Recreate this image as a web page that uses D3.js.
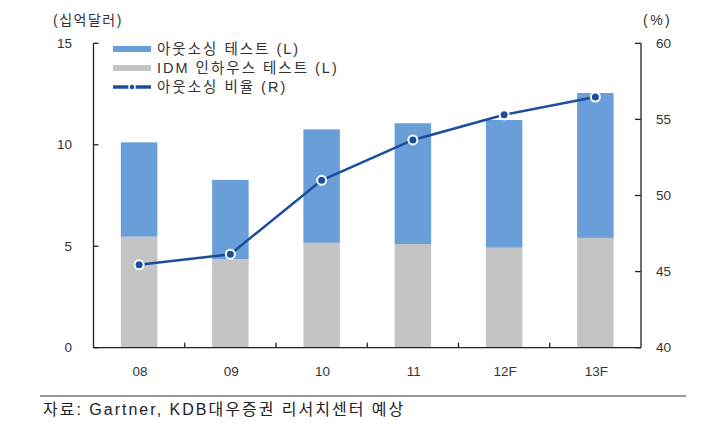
<!DOCTYPE html>
<html><head><meta charset="utf-8">
<script src="https://cdn.jsdelivr.net/npm/d3@7"></script>
<style>
body{margin:0;background:#fff;}
text{font-family:"Liberation Sans","Noto Sans CJK KR",sans-serif;fill:#333;}
</style></head>
<body><svg id="c" width="725" height="425"></svg>
<script>
const categories = ["08","09","10","11","12F","13F"];
const inhouse = [5.47, 4.37, 5.17, 5.11, 4.93, 5.41];
const outsourced = [4.65, 3.90, 5.59, 5.95, 6.29, 7.14];
const ratio = [45.45, 46.14, 51.0, 53.65, 55.3, 56.47];
const leftTicks = [0,5,10,15];
const rightTicks = [40,45,50,55,60];
const legendLabels = ["아웃소싱 테스트 (L)","IDM 인하우스 테스트 (L)","아웃소싱 비율 (R)"];

const svg = d3.select("#c");
const L = 93.5, R = 641, T = 43.3, B = 347.7;
const blue = "#6a9ed8", gray = "#c4c4c4", line = "#1b4f9c";

const x = d3.scaleBand().domain(categories).range([L,R]).paddingInner(0.6).paddingOuter(0.3);
const y = d3.scaleLinear().domain([0,15]).range([B,T]);
const y2 = d3.scaleLinear().domain([40,60]).range([B,T]);

// bars
const g = svg.append("g");
categories.forEach((c,i)=>{
  g.append("rect").attr("x",x(c)).attr("width",x.bandwidth())
   .attr("y",y(inhouse[i])).attr("height",y(0)-y(inhouse[i])).attr("fill",gray);
  g.append("rect").attr("x",x(c)).attr("width",x.bandwidth())
   .attr("y",y(inhouse[i]+outsourced[i])).attr("height",y(inhouse[i])-y(inhouse[i]+outsourced[i])).attr("fill",blue);
});

// axes
const ax = svg.append("g").attr("stroke","#222").attr("stroke-width",1.3).attr("fill","none");
ax.append("line").attr("x1",L).attr("x2",L).attr("y1",T).attr("y2",B);
ax.append("line").attr("x1",R).attr("x2",R).attr("y1",T).attr("y2",B);
ax.append("line").attr("x1",L).attr("x2",R).attr("y1",B).attr("y2",B);
leftTicks.forEach(t=>{
  ax.append("line").attr("x1",L).attr("x2",L+5).attr("y1",y(t)).attr("y2",y(t));
  svg.append("text").attr("x",72).attr("y",y(t)).attr("dy","0.35em").attr("text-anchor","end")
    .attr("font-size",13.5).text(t);
});
rightTicks.forEach(t=>{
  ax.append("line").attr("x1",R-6).attr("x2",R).attr("y1",y2(t)).attr("y2",y2(t));
  svg.append("text").attr("x",656).attr("y",y2(t)).attr("dy","0.35em").attr("text-anchor","start")
    .attr("font-size",13.5).text(t);
});
const step = x.step();
categories.forEach((c,i)=>{
  const cx = x(c)+x.bandwidth()/2;
  if(i>0){ const bx = cx - step/2; ax.append("line").attr("x1",bx).attr("x2",bx).attr("y1",B).attr("y2",B-5); }
  svg.append("text").attr("x",cx+1).attr("y",371).attr("dy","0.35em").attr("text-anchor","middle")
    .attr("font-size",13.5).text(c);
});

// line
const lineGen = d3.line().x((d,i)=>x(categories[i])+x.bandwidth()/2).y(d=>y2(d));
svg.append("path").datum(ratio).attr("d",lineGen).attr("fill","none").attr("stroke",line).attr("stroke-width",2.5);
svg.selectAll("circle.pt").data(ratio).enter().append("circle").attr("class","pt")
  .attr("cx",(d,i)=>x(categories[i])+x.bandwidth()/2).attr("cy",d=>y2(d)).attr("r",4.5)
  .attr("fill",line).attr("stroke","#fff").attr("stroke-width",2);

// titles
svg.append("text").attr("x",53).attr("y",20).attr("dy","0.35em").attr("font-size",14)
  .attr("letter-spacing",1.5).text("(십억달러)");
svg.append("text").attr("x",643).attr("y",20).attr("dy","0.35em").attr("font-size",14)
  .attr("letter-spacing",2.5).text("(%)");

// legend
const ly = [49,68,87];
svg.append("rect").attr("x",113).attr("y",ly[0]-3).attr("width",38).attr("height",6).attr("fill",blue);
svg.append("rect").attr("x",113).attr("y",ly[1]-3).attr("width",38).attr("height",6).attr("fill",gray);
svg.append("line").attr("x1",113).attr("x2",151).attr("y1",ly[2]).attr("y2",ly[2]).attr("stroke",line).attr("stroke-width",3.5);
svg.append("circle").attr("cx",132).attr("cy",ly[2]).attr("r",3).attr("fill",line).attr("stroke","#fff").attr("stroke-width",1.5);
legendLabels.forEach((t,i)=>{
  svg.append("text").attr("x",157).attr("y",ly[i]).attr("dy","0.35em").attr("font-size",14.5)
    .attr("letter-spacing",2).text(t);
});

// source
svg.append("line").attr("x1",40).attr("x2",686).attr("y1",396).attr("y2",396).attr("stroke","#999").attr("stroke-width",2);
svg.append("text").attr("x",43).attr("y",409).attr("dy","0.35em").attr("font-size",16).style("fill","#222")
  .attr("letter-spacing",2).text("자료: Gartner, KDB대우증권 리서치센터 예상");
</script></body></html>
